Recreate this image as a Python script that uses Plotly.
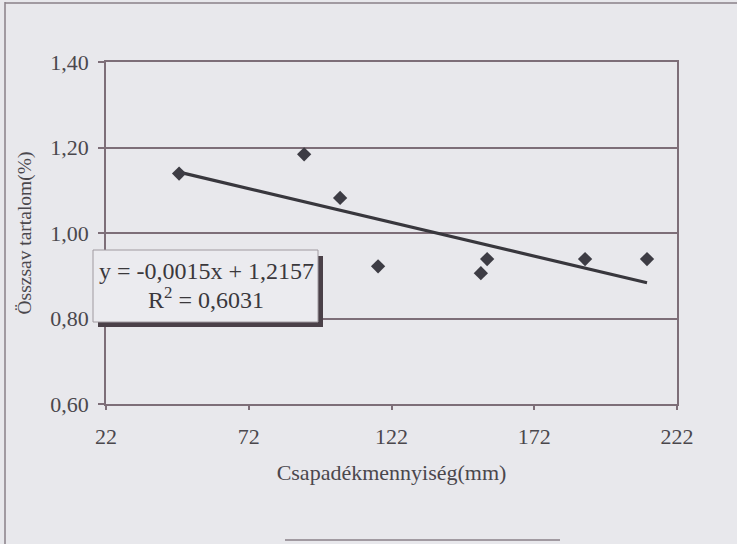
import numpy as np
import plotly.graph_objects as go

# Data
precip_mm = [47.6, 91.4, 104.0, 117.3, 153.3, 155.5, 189.8, 211.5]
acid_pct = [1.139, 1.184, 1.082, 0.922, 0.906, 0.939, 0.939, 0.939]

x_tickvals = [22, 72, 122, 172, 222]
x_ticktext = ["22", "72", "122", "172", "222"]
y_tickvals = [0.60, 0.80, 1.00, 1.20, 1.40]
y_ticktext = ["0,60", "0,80", "1,00", "1,20", "1,40"]

eq_text = "y = -0,0015x + 1,2157"
r2_text = "R<sup>2</sup> = 0,6031"

x_title = "Csapadékmennyiség(mm)"
y_title = "Összsav tartalom(%)"

# Linear trend line fitted to the points
slope, intercept = np.polyfit(precip_mm, acid_pct, 1)
trend_x = [min(precip_mm), max(precip_mm)]
trend_y = [slope * v + intercept for v in trend_x]

W, H = 737, 544
L, R, T, B = 106, 60, 62, 140
PW, PH = W - L - R, H - T - B


def px(xp):
    return (xp - L) / PW


def py(yp):
    return (H - B - yp) / PH


BG = "#e8e8ec"
GRID = "#7d6e78"
TXT = "#4a474c"
FONT = "Liberation Serif"

fig = go.Figure()
fig.add_trace(go.Scatter(
    x=trend_x, y=trend_y, mode="lines",
    line=dict(color="#38373d", width=3.2), hoverinfo="skip", showlegend=False))
fig.add_trace(go.Scatter(
    x=precip_mm, y=acid_pct, mode="markers",
    marker=dict(symbol="diamond", size=11, color="#3d3c44"),
    showlegend=False))

shapes = [
    # outer chart frame (scanned)
    dict(type="line", xref="paper", yref="paper", x0=px(5), x1=px(5), y0=py(2), y1=py(544),
         line=dict(color="#8a8088", width=1.5)),
    dict(type="line", xref="paper", yref="paper", x0=px(5), x1=px(737), y0=py(3), y1=py(3),
         line=dict(color="#8a8088", width=1.5)),
    dict(type="line", xref="paper", yref="paper", x0=px(285), x1=px(560), y0=py(540), y1=py(540),
         line=dict(color="#8a8088", width=1.5)),
    # shadow of the equation box
    dict(type="rect", xref="paper", yref="paper", x0=px(98), x1=px(323), y0=py(256), y1=py(327),
         fillcolor="#4a4048", line=dict(width=0), layer="above"),
    # equation box
    dict(type="rect", xref="paper", yref="paper", x0=px(93), x1=px(318), y0=py(250), y1=py(322),
         fillcolor="#ebebef", line=dict(color="#a09aa0", width=1), layer="above"),
]

box_cx = px(206)
fig.add_annotation(
    xref="paper", yref="paper", x=box_cx, y=py(271), xanchor="center", yanchor="middle",
    text=eq_text, showarrow=False,
    font=dict(family=FONT, size=24, color="#3a383c"))
fig.add_annotation(
    xref="paper", yref="paper", x=box_cx, y=py(298), xanchor="center", yanchor="middle",
    text=r2_text, showarrow=False,
    font=dict(family=FONT, size=24, color="#3a383c"))

fig.update_layout(
    width=W, height=H, margin=dict(l=L, r=R, t=T, b=B),
    paper_bgcolor=BG, plot_bgcolor=BG,
    font=dict(family=FONT, color=TXT, size=22),
    shapes=shapes,
    xaxis=dict(range=[22, 222], tickvals=x_tickvals, ticktext=x_ticktext,
               showgrid=False, zeroline=False, showline=True, linecolor=GRID, linewidth=1.5,
               mirror=True, ticks="outside", ticklen=4, tickcolor=GRID, tickwidth=1.5,
               ticklabelstandoff=8, tickfont=dict(size=22),
               title=dict(text=x_title, font=dict(size=22), standoff=16)),
    yaxis=dict(range=[0.6, 1.4], tickvals=y_tickvals, ticktext=y_ticktext,
               showgrid=True, gridcolor=GRID, gridwidth=1.5, zeroline=False,
               showline=True, linecolor=GRID, linewidth=1.5, mirror=True,
               ticks="outside", ticklen=6, tickcolor=GRID, tickwidth=1.5,
               ticklabelstandoff=5, tickfont=dict(size=22),
               title=dict(text=y_title, font=dict(size=19.5), standoff=14)),
)

fig.write_html("out.html")
